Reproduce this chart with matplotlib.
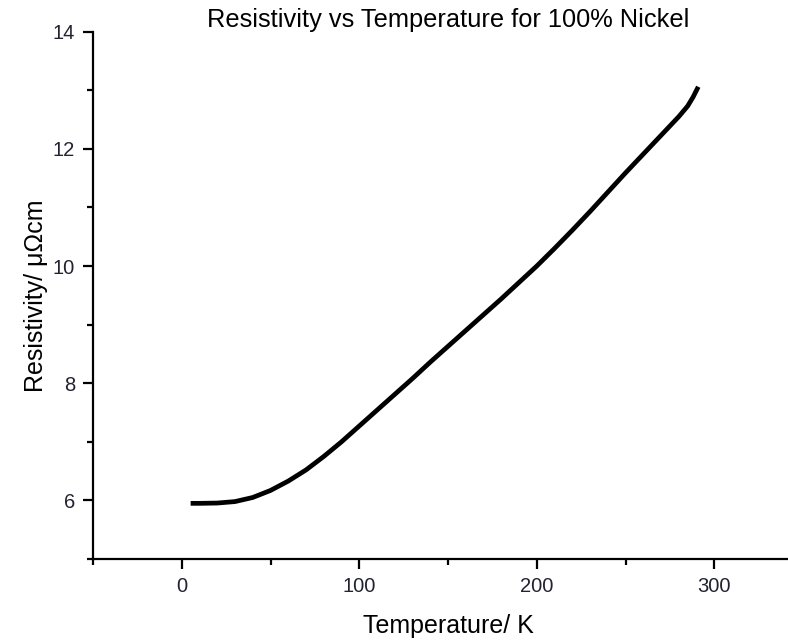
import matplotlib.pyplot as plt
from matplotlib.ticker import MultipleLocator

plt.rcParams['font.family'] = ['Liberation Sans', 'DejaVu Sans']

# data
temperature = [5, 10, 20, 30, 40, 50, 60, 70, 80, 90, 100, 110, 120, 130, 140,
               150, 160, 170, 180, 190, 200, 210, 220, 230, 240, 250, 260, 270,
               280, 285, 288, 290, 291]
resistivity = [5.95, 5.95, 5.955, 5.98, 6.05, 6.17, 6.33, 6.52, 6.75, 7.00, 7.27,
               7.54, 7.81, 8.08, 8.36, 8.63, 8.90, 9.17, 9.44, 9.72, 10.00, 10.30,
               10.61, 10.93, 11.26, 11.59, 11.91, 12.23, 12.55, 12.73, 12.88,
               13.00, 13.06]

x_ticks = [0, 100, 200, 300]
y_ticks = [6, 8, 10, 12, 14]

fig = plt.figure(figsize=(7.88, 6.4), dpi=100)
ax = fig.add_axes([93 / 788, 81 / 640, 710 / 788, 527.3 / 640])

ax.plot(temperature, resistivity, color='black', lw=3.4,
        solid_capstyle='butt', solid_joinstyle='round')

ax.set_xlim(-50, 350)
ax.set_ylim(5, 14)
ax.set_xticks(x_ticks)
ax.set_yticks(y_ticks)
ax.xaxis.set_minor_locator(MultipleLocator(50))
ax.yaxis.set_minor_locator(MultipleLocator(1))

for side in ['top', 'right']:
    ax.spines[side].set_visible(False)
for side in ['left', 'bottom']:
    ax.spines[side].set_linewidth(1.6)

ax.tick_params(which='major', direction='out', length=7, width=1.6,
               labelsize=14.5, labelcolor='#222233', pad=6)
ax.tick_params(which='minor', direction='out', length=4, width=1.6)

ax.set_xlabel('Temperature/ K', fontsize=18, labelpad=13)
ax.set_ylabel('Resistivity/ μΩcm', fontsize=18, labelpad=3)
ax.set_title('Resistivity vs Temperature for 100% Nickel', fontsize=18.3, pad=2)

fig.savefig('out.png', dpi=100)
